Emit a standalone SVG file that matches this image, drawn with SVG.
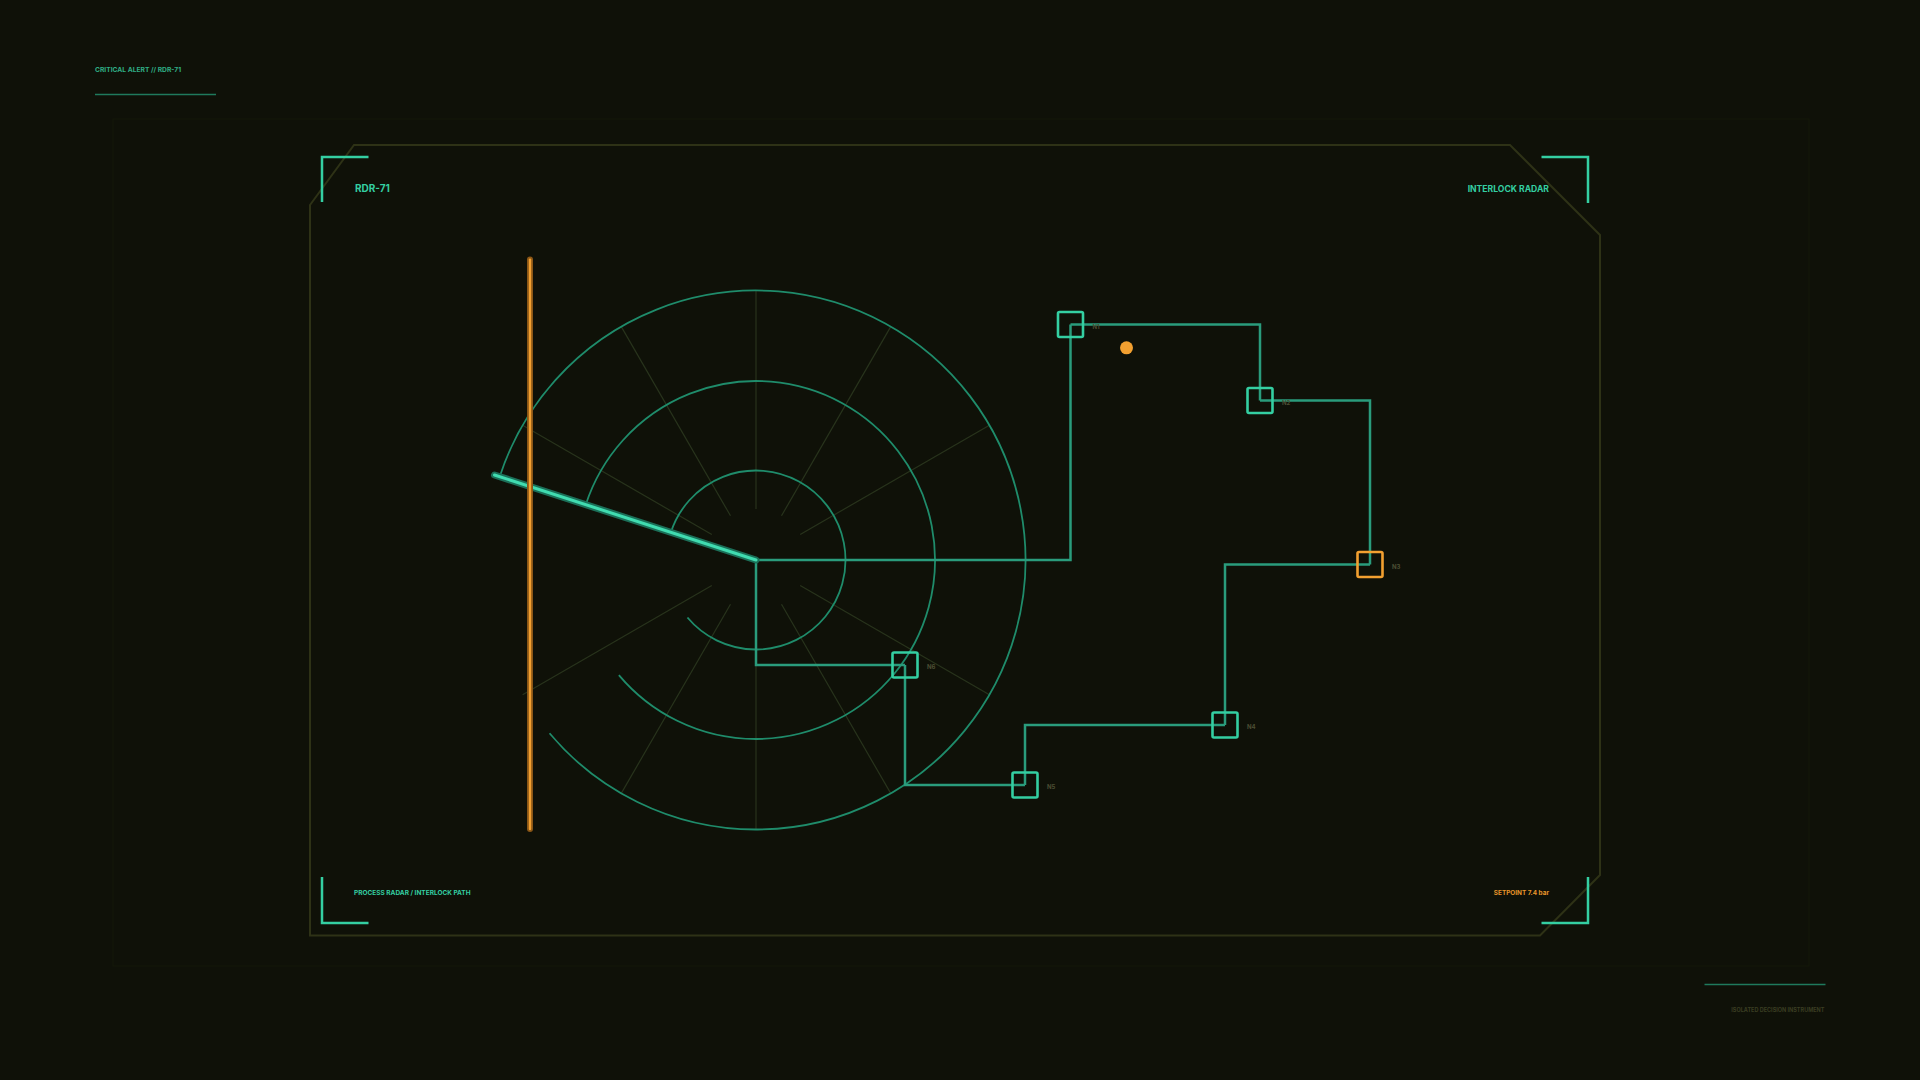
<svg xmlns="http://www.w3.org/2000/svg" width="1920" height="1080" viewBox="0 0 1920 1080">
<style>
text{font-family:Inter,"Liberation Sans",sans-serif;font-weight:700}
.bracket{fill:none;stroke:#34cfa2;stroke-width:2.5}
.ring{fill:none;stroke:#1f8c6b;stroke-width:1.8}
.spoke{stroke:#28331c;stroke-width:1.2}
.conn{fill:none;stroke:#2a9c7c;stroke-width:2.5}
.node{fill:none;stroke:#34cfa2;stroke-width:2.6}
.nlabel{font-size:6px;fill:#4b4e33}
</style>
<rect width="1920" height="1080" fill="#0f1108"/>
<rect x="113" y="119" width="1696" height="847" fill="none" stroke="#151809" stroke-width="1"/>
<g id="header">
<text x="95" y="72" font-size="6.7" fill="#2fae85">CRITICAL ALERT // RDR-71</text>
<line x1="95" y1="94.5" x2="216" y2="94.5" stroke="#1f7a5c" stroke-width="1.5"/>
</g>
<g id="panel">
<path d="M310,205 L354,145 H1510 L1600,235 V875 L1540,935.5 H310 Z" fill="none" stroke="#2e3216" stroke-width="2"/>
<path class="bracket" d="M322,202 V157 H368.5"/>
<path class="bracket" d="M1541.5,157 H1588 V203"/>
<path class="bracket" d="M322,877 V923 H368.5"/>
<path class="bracket" d="M1588,877 V923 H1541.5"/>
<text x="355" y="192" font-size="10" fill="#34cfa2">RDR-71</text>
<text x="1549" y="192" font-size="8.6" fill="#34cfa2" text-anchor="end">INTERLOCK RADAR</text>
<text x="354" y="895" font-size="6.5" fill="#34cfa2">PROCESS RADAR / INTERLOCK PATH</text>
<text x="1549" y="895" font-size="6.4" fill="#e8962a" text-anchor="end">SETPOINT 7.4 bar</text>
</g>
<g id="footer">
<line x1="1704.5" y1="984.5" x2="1825.5" y2="984.5" stroke="#1f7a5c" stroke-width="1.5"/>
<text x="1824.5" y="1012" font-size="5.5" fill="#3a3d22" text-anchor="end">ISOLATED DECISION INSTRUMENT</text>
</g>
<g id="radar">
<line class="spoke" x1="800.2" y1="585.5" x2="989.4" y2="694.75"/>
<line class="spoke" x1="781.5" y1="604.2" x2="890.75" y2="793.4"/>
<line class="spoke" x1="756" y1="611" x2="756" y2="829.5"/>
<line class="spoke" x1="730.5" y1="604.2" x2="621.25" y2="793.4"/>
<line class="spoke" x1="711.8" y1="585.5" x2="522.6" y2="694.75"/>
<line class="spoke" x1="711.8" y1="534.5" x2="522.6" y2="425.25"/>
<line class="spoke" x1="730.5" y1="515.8" x2="621.25" y2="326.6"/>
<line class="spoke" x1="756" y1="509" x2="756" y2="290.5"/>
<line class="spoke" x1="781.5" y1="515.8" x2="890.75" y2="326.6"/>
<line class="spoke" x1="800.2" y1="534.5" x2="989.4" y2="425.25"/>
<path class="ring" d="M670.88,532.34 A89.5,89.5 0 1 1 687.44,617.53"/>
<path class="ring" d="M585.76,504.69 A179,179 0 1 1 618.88,675.06"/>
<path class="ring" d="M499.69,476.72 A269.5,269.5 0 1 1 549.55,733.23"/>
</g>
<g id="connectors">
<path class="conn" d="M756,560 H1070.5 V324.5"/>
<path class="conn" d="M1070.5,324.5 H1260 V400.5"/>
<path class="conn" d="M1260,400.5 H1370 V564.5"/>
<path class="conn" d="M1370,564.5 H1225 V725"/>
<path class="conn" d="M1225,725 H1025 V785"/>
<path class="conn" d="M1025,785 H905 V665"/>
<path class="conn" d="M905,665 H756 V560"/>
</g>
<g id="sweep">
<line x1="756" y1="560" x2="494.5" y2="475" stroke="#1b6f58" stroke-width="7" stroke-linecap="round"/>
<line x1="756" y1="560" x2="494.5" y2="475" stroke="#40dcb0" stroke-width="3" stroke-linecap="round"/>
</g>
<g id="interlock-bar">
<line x1="530" y1="259.6" x2="530" y2="829" stroke="#8a5616" stroke-width="6" stroke-linecap="round"/>
<line x1="530" y1="259.6" x2="530" y2="829" stroke="#f2a030" stroke-width="2.4" stroke-linecap="round"/>
</g>
<g id="n1"><rect class="node" x="1058" y="312" width="25" height="25" rx="1.5"/><text class="nlabel" x="1092.5" y="328.5">N1</text></g>
<g id="n2"><rect class="node" x="1247.5" y="388" width="25" height="25" rx="1.5"/><text class="nlabel" x="1282" y="404.5">N2</text></g>
<g id="n3"><rect class="node" x="1357.5" y="552" width="25" height="25" rx="1.5" style="stroke:#f2a030"/><text class="nlabel" x="1392" y="568.5">N3</text></g>
<g id="n4"><rect class="node" x="1212.5" y="712.5" width="25" height="25" rx="1.5"/><text class="nlabel" x="1247" y="729">N4</text></g>
<g id="n5"><rect class="node" x="1012.5" y="772.5" width="25" height="25" rx="1.5"/><text class="nlabel" x="1047" y="789">N5</text></g>
<g id="n6"><rect class="node" x="892.5" y="652.5" width="25" height="25" rx="1.5"/><text class="nlabel" x="927" y="669">N6</text></g>
<g id="marker-dot"><circle cx="1126.5" cy="347.8" r="6.5" fill="#f2a030"/></g>
</svg>
